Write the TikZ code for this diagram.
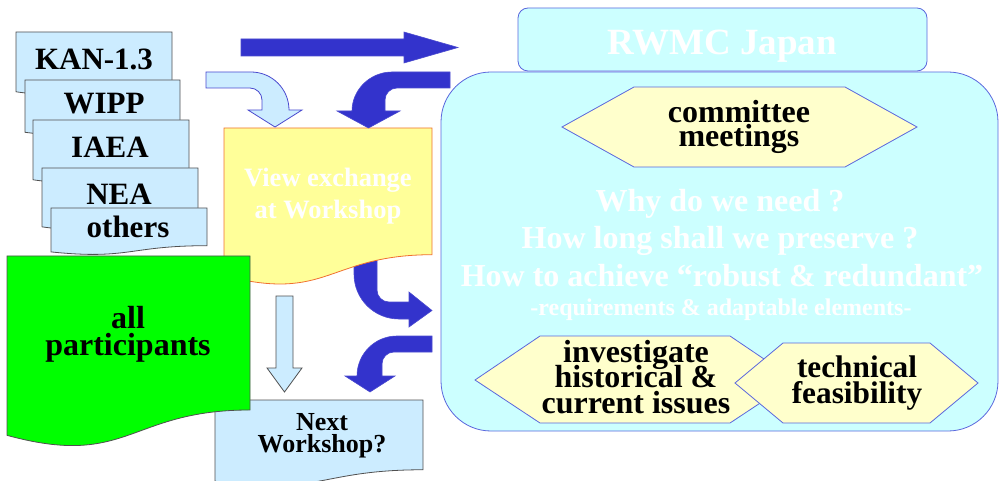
\documentclass[tikz,border=0pt]{standalone}
\usepackage{fontspec}
\setmainfont{Liberation Serif}[BoldFont={Liberation Serif Bold}]
\newfontfamily\tmsfont{Liberation Serif}[BoldFont={Liberation Serif Bold}]
\definecolor{docblue}{HTML}{CCECFF}
\definecolor{docline}{HTML}{505050}
\definecolor{arrowdark}{HTML}{3333CC}
\definecolor{arrowline}{HTML}{4A4ACF}
\definecolor{boxcyan}{HTML}{CCFFFF}
\definecolor{boxline}{HTML}{5A66DD}
\definecolor{hexfill}{HTML}{FFFFCC}
\definecolor{yellowdoc}{HTML}{FFFF99}
\definecolor{orangeline}{HTML}{F07030}
\definecolor{greendoc}{HTML}{00FF00}
\newcommand\docpath[5]{\path[#1] (#2,#3) -- ({#2+#4},#3) -- ({#2+#4},{#3+0.802*#5}) .. controls ({#2+#4/2},{#3+0.802*#5}) and ({#2+#4/2},{#3+1.1075*#5}) .. (#2,{#3+0.934*#5}) -- cycle;}
\tikzset{
  lbl/.style={anchor=base, inner sep=0pt, text height=0.62em, text depth=0.05em, font=\tmsfont\bfseries\fontsize{#1}{#1}\selectfont},
  lbl/.default=32,
  wlbl/.style={lbl=#1, text=white},
  wlbl/.default=32,
  docstyle/.style={fill=docblue, draw=docline, line width=0.8pt},
  hexstyle/.style={fill=hexfill, draw=boxline, line width=0.8pt},
  cyanbox/.style={fill=boxcyan, draw=boxline, line width=0.8pt},
  darkarrow/.style={fill=arrowdark, draw=arrowline, line width=0.6pt},
  lightarrow/.style={fill=docblue, draw=arrowline, line width=0.8pt},
  grayarrow/.style={fill=docblue, draw=docline, line width=0.8pt}
}
\begin{document}
\begin{tikzpicture}[x=1pt,y=-1pt]
\useasboundingbox (0,0) rectangle (999,481);
% right side boxes
\draw[cyanbox, rounded corners=50pt] (441,72) rectangle (998,431);
\draw[cyanbox, rounded corners=10pt] (518,8) rectangle (927,71);
\node[wlbl=37] (rwmc) at (722,55) {RWMC Japan};
\node[wlbl] (why) at (720,212) {Why do we need ?};
\node[wlbl] (howlong) at (720,249) {How long shall we preserve ?};
\node[wlbl] (howto) at (722,287) {How to achieve “robust \& redundant”};
\node[wlbl=24] (req) at (721,316) {-requirements \& adaptable elements-};
% hexagons
\path[hexstyle] (562,127) -- (634,87) -- (845,87) -- (917,127) -- (845,167) -- (634,167) -- cycle;
\node[lbl] (comm1) at (739,123) {committee};
\node[lbl] (comm2) at (739,147) {meetings};
\path[hexstyle] (475,380) -- (540,336) -- (730,336) -- (795,380) -- (730,423) -- (540,423) -- cycle;
\node[lbl] (inv1) at (636,362) {investigate};
\node[lbl] (inv2) at (636,387) {historical \&};
\node[lbl] (inv3) at (636,413) {current issues};
\path[hexstyle] (735,383) -- (783,343) -- (930,343) -- (978,383) -- (930,423) -- (783,423) -- cycle;
\node[lbl=31.3] (tech1) at (857,377) {technical};
\node[lbl=31.3] (tech2) at (857,403) {feasibility};
% arrow from yellow to right box (under yellow)
\path[darkarrow] (354,258) -- (354,274) .. controls (354,298.9) and (374.1,319) .. (399,319) -- (409,319) -- (409,327) -- (432,310.5) -- (409,292) -- (409,302) -- (389,302) .. controls (382.4,302) and (377,296.6) .. (377,290) -- (377,258) -- cycle;
% yellow document
\docpath{fill=yellowdoc, draw=orangeline, line width=0.8pt}{224}{128}{208}{158}
\node[wlbl=26.5] (view1) at (328,187) {View exchange};
\node[wlbl=26.5] (view2) at (328,219) {at Workshop};
% next workshop
\docpath{docstyle}{215}{400}{208}{87}
\node[lbl=26] (next1) at (322,430) {Next};
\node[lbl=26] (next2) at (322,452) {Workshop?};
% stack of documents
\docpath{docstyle}{16}{32}{156}{64}
\node[lbl=31] (kan) at (94,70) {KAN-1.3};
\docpath{docstyle}{25}{80}{155}{56}
\node[lbl=31] (wipp) at (104,114) {WIPP};
\docpath{docstyle}{33}{120}{156}{64}
\node[lbl=31] (iaea) at (110,158) {IAEA};
\docpath{docstyle}{42}{168}{156}{63}
\node[lbl=31] (nea) at (119,205) {NEA};
\docpath{docstyle}{51}{208}{156}{47}
\node[lbl=31] (others) at (128,238) {others};
% green
\docpath{fill=greendoc, draw=docline, line width=0.8pt}{7}{256}{243}{192}
\node[lbl] (all1) at (128,328) {all};
\node[lbl] (all2) at (128,355) {participants};
% arrows
\path[darkarrow] (241,39) -- (404,39) -- (404,32) -- (458,47.5) -- (404,63) -- (404,56) -- (241,56) -- cycle;
\path[lightarrow] (206,72) -- (251,72) .. controls (272,72) and (289,89) .. (289,110) -- (302,110) -- (275,127) -- (248,110) -- (262,110) -- (262,100) .. controls (262,93.4) and (256.6,88) .. (250,88) -- (206,88) -- cycle;
\path[darkarrow] (450,72) -- (392,72) .. controls (369.9,72) and (352,89.9) .. (352,111) -- (337,111) -- (368.5,128) -- (400,111) -- (385,111) -- (385,100) .. controls (385,93.4) and (390.4,88) .. (397,88) -- (450,88) -- cycle;
\path[darkarrow] (432,336) -- (397,336) .. controls (374.9,336) and (357,353.9) .. (357,376) -- (345,376) -- (370,392) -- (395,376) -- (382,376) -- (382,364) .. controls (382,357.4) and (387.4,352) .. (394,352) -- (432,352) -- cycle;
\path[grayarrow] (276,296) -- (293,296) -- (293,368) -- (302,368) -- (284.5,392) -- (267,368) -- (276,368) -- cycle;
\end{tikzpicture}
\end{document}
